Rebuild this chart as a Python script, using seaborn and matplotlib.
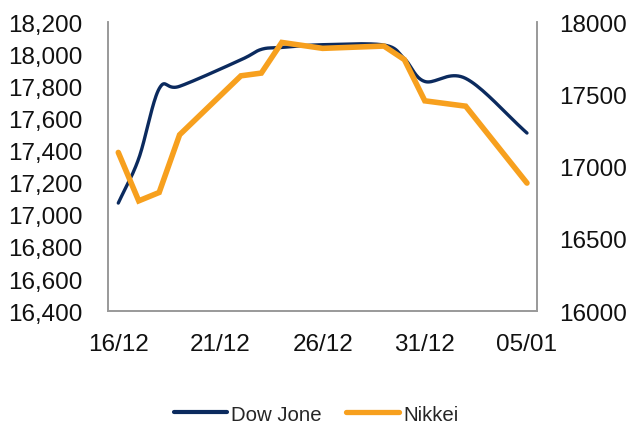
import numpy as np
import pandas as pd
import seaborn as sns
import matplotlib.pyplot as plt
from matplotlib.lines import Line2D

# trading days, counted from 16/12
days = [0, 1, 2, 3, 6, 7, 8, 10, 13, 14, 15, 17, 20]
dow = [17073, 17350, 17785, 17800, 17965, 18030, 18042, 18059, 18057, 17972, 17830, 17849, 17509]
nikkei = [17098, 16763, 16821, 17220, 17628, 17647, 17859, 17818, 17834, 17740, 17455, 17418, 16886]
tick_days = [0, 5, 10, 15, 20]
tick_labels = ['16/12', '21/12', '26/12', '31/12', '05/01']

navy = '#0B2A5E'
orange = '#F7A01E'


def smooth(x, y, n=20):
    # catmull-rom curve through the points (like excel's smoothed line)
    x = np.asarray(x, float)
    y = np.asarray(y, float)
    px = np.concatenate([[2 * x[0] - x[1]], x, [2 * x[-1] - x[-2]]])
    py = np.concatenate([[2 * y[0] - y[1]], y, [2 * y[-1] - y[-2]]])
    xs, ys = [], []
    t = np.linspace(0, 1, n, endpoint=False)
    for i in range(1, len(px) - 2):
        for p, out in ((px, xs), (py, ys)):
            p0, p1, p2, p3 = p[i - 1], p[i], p[i + 1], p[i + 2]
            out.extend(0.5 * (2 * p1 + (-p0 + p2) * t + (2 * p0 - 5 * p1 + 4 * p2 - p3) * t ** 2
                              + (-p0 + 3 * p1 - 3 * p2 + p3) * t ** 3))
    xs.append(x[-1])
    ys.append(y[-1])
    return pd.DataFrame({'day': xs, 'value': ys})


sns.set_style('white')
plt.rcParams['font.family'] = ['Liberation Sans', 'DejaVu Sans']

fig = plt.figure(figsize=(6.32, 4.27), dpi=100)
ax = fig.add_axes([0.171, 0.269, 0.679, 0.677])
ax2 = ax.twinx()

sns.lineplot(data=smooth(days, dow), x='day', y='value', ax=ax, color=navy, linewidth=2.4,
             solid_capstyle='round', sort=False)
sns.lineplot(x=days, y=nikkei, ax=ax2, color=orange, linewidth=4.0,
             solid_capstyle='round', solid_joinstyle='miter')

ax.set_xlim(-0.5, 20.5)
ax.set_ylim(16400, 18200)
ax2.set_ylim(16000, 18000)
ax.set_yticks(np.arange(16400, 18201, 200))
ax.set_yticklabels([f'{v:,}' for v in range(16400, 18201, 200)])
ax2.set_yticks(np.arange(16000, 18001, 500))
ax.set_xticks(tick_days)
ax.set_xticklabels(tick_labels)

for a in (ax, ax2):
    a.set_xlabel('')
    a.set_ylabel('')
    a.tick_params(length=0, labelsize=17.5, colors='#111111')
    a.spines['top'].set_visible(False)
    for s in ('left', 'right', 'bottom'):
        a.spines[s].set_color('#999999')
        a.spines[s].set_linewidth(1.2)
ax.tick_params(axis='y', pad=18.5)
ax.tick_params(axis='x', pad=16)
ax2.tick_params(axis='y', pad=16)

handles = [Line2D([], [], color=navy, linewidth=3), Line2D([], [], color=orange, linewidth=3.8)]
fig.legend(handles, ['Dow Jone', 'Nikkei'], loc='center', bbox_to_anchor=(0.5, 0.028), ncol=2,
           frameon=False, fontsize=14.7, handlelength=2.6, handletextpad=0.2, columnspacing=1.2,
           borderpad=0)

fig.savefig('out.png', dpi=100)
